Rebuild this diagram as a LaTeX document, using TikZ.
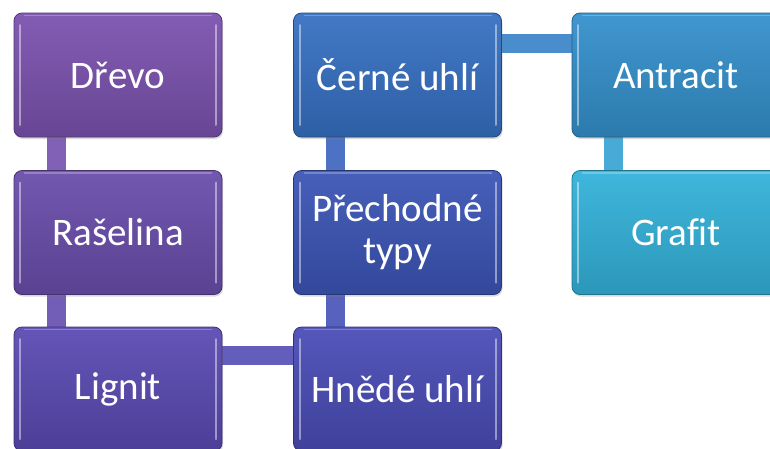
\documentclass[tikz,border=0pt]{standalone}
\usepackage{fontspec}
\setmainfont{Carlito}[Ligatures=NoCommon]
\usetikzlibrary{shadows,backgrounds,calc}
\definecolor{cDrevo}{HTML}{7B52AE}
\definecolor{cRas}{HTML}{6A4DAB}
\definecolor{cLig}{HTML}{5A4AB2}
\definecolor{cHne}{HTML}{4A4CB6}
\definecolor{cPre}{HTML}{3C55B6}
\definecolor{cCer}{HTML}{3670C2}
\definecolor{cAnt}{HTML}{3490CC}
\definecolor{cGra}{HTML}{33B2DA}
\tikzset{
  box/.style={rounded corners=8pt, minimum width=208pt, minimum height=124pt,
    inner sep=0pt, text=white, font=\fontsize{39}{42}\selectfont, align=center,
    draw=#1!65!black, line width=0.8pt, top color=#1!94!white, bottom color=#1!85!black,
    drop shadow={opacity=0.3, shadow xshift=1pt, shadow yshift=-2pt},
    path picture={
      \draw[white, opacity=0.45, line width=2pt, line cap=round]
        ($(path picture bounding box.south west)+(6pt,12pt)$) --
        ($(path picture bounding box.north west)+(6pt,-12pt)$);
      \draw[white, opacity=0.45, line width=2pt, line cap=round]
        ($(path picture bounding box.south east)+(-6pt,12pt)$) --
        ($(path picture bounding box.north east)+(-6pt,-12pt)$);
      \draw[white, opacity=0.25, line width=1.2pt]
        ($(path picture bounding box.north west)+(10pt,-2.5pt)$) --
        ($(path picture bounding box.north east)+(-10pt,-2.5pt)$);}},
  conn/.style={line width=19pt, draw=#1}
}
\begin{document}
\begin{tikzpicture}[x=1pt,y=-1pt]
\useasboundingbox (0,0) rectangle (770,448);
\clip (0,0) rectangle (770,448);
\node[box=cDrevo] (drevo) at (118,75) {Dřevo};
\node[box=cRas] (ras) at (118,232.5) {Rašelina};
\node[box=cLig] (lig) at (118,389) {Lignit};
\node[box=cHne] (hne) at (397.5,389) {Hnědé uhlí};
\node[box=cPre] (pre) at (397.5,232.5) {Přechodné\\typy};
\node[box=cCer] (cer) at (397.5,75) {Černé uhlí};
\node[box=cAnt] (ant) at (676,75) {Antracit};
\node[box=cGra] (gra) at (676,232.5) {Grafit};
\begin{pgfonlayer}{background}
\draw[conn=cDrevo!50!cRas!90!white] ([xshift=43pt]drevo.south west) -- ([xshift=43pt]ras.north west);
\draw[conn=cRas!50!cLig!90!white] ([xshift=43pt]ras.south west) -- ([xshift=43pt]lig.north west);
\draw[conn=cLig!50!cHne!90!white] ([yshift=-29pt]lig.north east) -- ([yshift=-29pt]hne.north west);
\draw[conn=cHne!50!cPre!90!white] ([xshift=42pt]hne.north west) -- ([xshift=42pt]pre.south west);
\draw[conn=cPre!50!cCer!90!white] ([xshift=42pt]pre.north west) -- ([xshift=42pt]cer.south west);
\draw[conn=cCer!50!cAnt!90!white] ([yshift=-31pt]cer.north east) -- ([yshift=-31pt]ant.north west);
\draw[conn=cAnt!50!cGra!90!white] ([xshift=42pt]ant.south west) -- ([xshift=42pt]gra.north west);
\end{pgfonlayer}
\end{tikzpicture}
\end{document}
